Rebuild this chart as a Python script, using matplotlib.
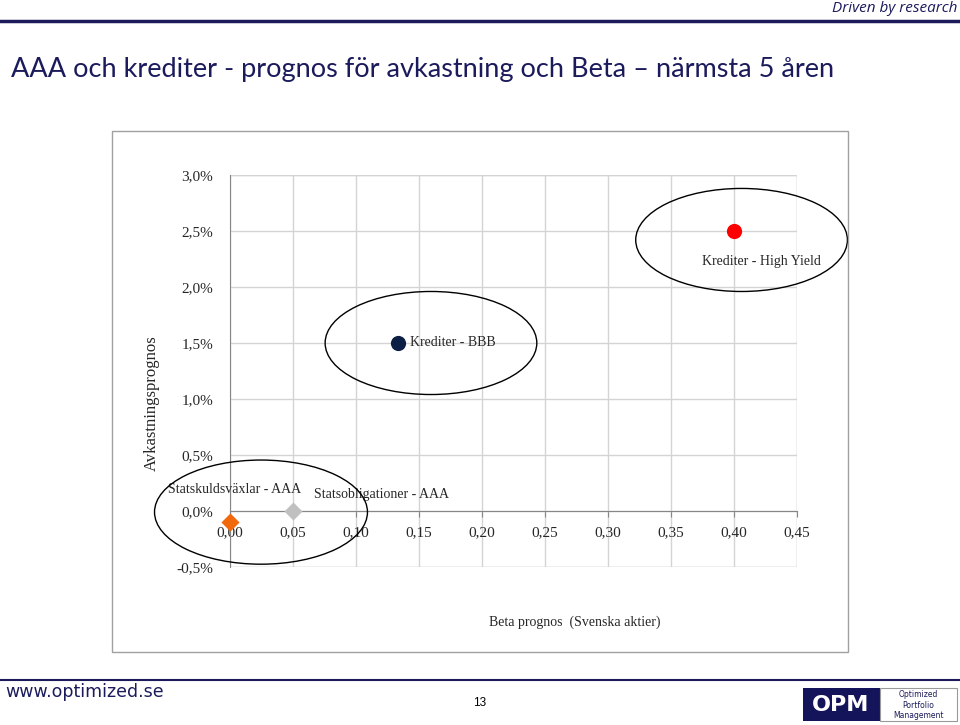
import matplotlib
matplotlib.use("Agg")
import matplotlib.pyplot as plt
from matplotlib.patches import Ellipse, Rectangle
from matplotlib.lines import Line2D
from matplotlib.ticker import FuncFormatter

# data
categories = ["Statskuldsväxlar - AAA", "Statsobligationer - AAA",
              "Krediter - BBB", "Krediter - High Yield"]
beta = [0.00, 0.05, 0.133, 0.40]
ret = [-0.1, 0.0, 1.5, 2.5]  # percent
markers = ["D", "D", "o", "o"]
colors = ["#f2680c", "#c0c0c0", "#0c1f44", "#ff0000"]
x_ticks = [0.00, 0.05, 0.10, 0.15, 0.20, 0.25, 0.30, 0.35, 0.40, 0.45]
y_ticks = [-0.5, 0.0, 0.5, 1.0, 1.5, 2.0, 2.5, 3.0]

NAVY = "#1b1b5c"
SERIF = "Liberation Serif"
TXT = "#262626"

W, H = 960, 725
fig = plt.figure(figsize=(W / 100, H / 100), dpi=100)


def fx(px):
    return px / W


def fy(py):
    return 1 - py / H


# header / footer of the slide
fig.add_artist(Line2D([0, 1], [fy(21), fy(21)], color=NAVY, lw=2.5))
fig.text(fx(957), fy(9), "Driven by research", ha="right", va="center",
         color=NAVY, fontsize=11, style="italic", family="Open Sans")
fig.text(fx(11), fy(70), "AAA och krediter - prognos för avkastning och Beta – närmsta 5 åren",
         ha="left", va="center", color=NAVY, fontsize=19.5, family="Lato")

fig.add_artist(Line2D([0, 1], [fy(680), fy(680)], color=NAVY, lw=1.5))
fig.text(fx(5), fy(692), "www.optimized.se", ha="left", va="center",
         color=NAVY, fontsize=12.5, family="DejaVu Sans")
fig.text(fx(480), fy(703), "13", ha="center", va="center", color="black",
         fontsize=8.5, family="Liberation Sans")

# OPM logo
fig.add_artist(Rectangle((fx(803), fy(721)), fx(77), fy(688) - fy(721),
                         transform=fig.transFigure, facecolor="#14145a", edgecolor="none"))
fig.add_artist(Rectangle((fx(880), fy(721)), fx(77), fy(688) - fy(721),
                         transform=fig.transFigure, facecolor="white", edgecolor="#9a9a9a", lw=0.8))
fig.text(fx(841), fy(705), "OPM", ha="center", va="center", color="white",
         fontsize=16, fontweight="bold", family="DejaVu Sans")
fig.text(fx(918), fy(705), "Optimized\nPortfolio\nManagement", ha="center", va="center",
         color="#1b1b5c", fontsize=5.5, family="DejaVu Sans", linespacing=1.2)

# chart frame
fig.add_artist(Rectangle((fx(112), fy(652)), fx(848 - 112), fy(131) - fy(652),
                         transform=fig.transFigure, facecolor="none", edgecolor="#a0a0a0", lw=1))

ax = fig.add_axes([fx(230), fy(567), fx(797 - 230), fy(175) - fy(567)])
ax.set_xlim(0, 0.45)
ax.set_ylim(-0.5, 3.0)
ax.set_xticks(x_ticks)
ax.set_yticks(y_ticks)
ax.grid(True, color="#d4d4d4", lw=1)
ax.set_axisbelow(True)
for s in ["top", "right"]:
    ax.spines[s].set_visible(False)
ax.spines["bottom"].set_position(("data", 0))
ax.spines["bottom"].set_color("#868686")
ax.spines["left"].set_color("#868686")
ax.xaxis.set_major_formatter(FuncFormatter(lambda v, p: f"{v:.2f}".replace(".", ",")))
ax.yaxis.set_major_formatter(FuncFormatter(lambda v, p: f"{v:.1f}%".replace(".", ",")))
ax.tick_params(axis="x", length=4, color="#868686", pad=7, direction="out")
ax.tick_params(axis="y", length=0, pad=12)
for lbl in ax.get_xticklabels() + ax.get_yticklabels():
    lbl.set_fontfamily(SERIF)
    lbl.set_fontsize(11)
    lbl.set_color(TXT)

# grid lines at the frame edges
ax.axhline(3.0, color="#d4d4d4", lw=1, zorder=0)
ax.axvline(0.45, color="#d4d4d4", lw=1, zorder=0)
ax.axhline(-0.5, color="#d4d4d4", lw=1, zorder=0)

for x, y, m, c in zip(beta, ret, markers, colors):
    ax.scatter([x], [y], marker=m, s=120 if m == "o" else 85, color=c,
               zorder=5, clip_on=False, linewidths=0)

# point labels
lab_pos = [(0.0035, 0.19, "center"), (0.12, 0.15, "center"),
           (0.143, 1.5, "left"), (0.375, 2.23, "left")]
for name, (lx, ly, ha) in zip(categories, lab_pos):
    ax.text(lx, ly, name, ha=ha, va="center", fontsize=10, family=SERIF,
            color=TXT, zorder=6, clip_on=False)

# circled groups
for cx, cy, w, h in [(0.406, 2.42, 0.168, 0.92), (0.1595, 1.5, 0.168, 0.92),
                     (0.0246, -0.01, 0.169, 0.93)]:
    ax.add_patch(Ellipse((cx, cy), w, h, facecolor="none", edgecolor="black",
                         lw=1, clip_on=False, zorder=7))

fig.text(fx(152), fy(403), "Avkastningsprognos", rotation=90, ha="center", va="center",
         family=SERIF, fontsize=12, color=TXT)
fig.text(fx(575), fy(622), "Beta prognos  (Svenska aktier)", ha="center", va="center",
         family=SERIF, fontsize=10, color=TXT)

fig.savefig("out.png", dpi=100)
